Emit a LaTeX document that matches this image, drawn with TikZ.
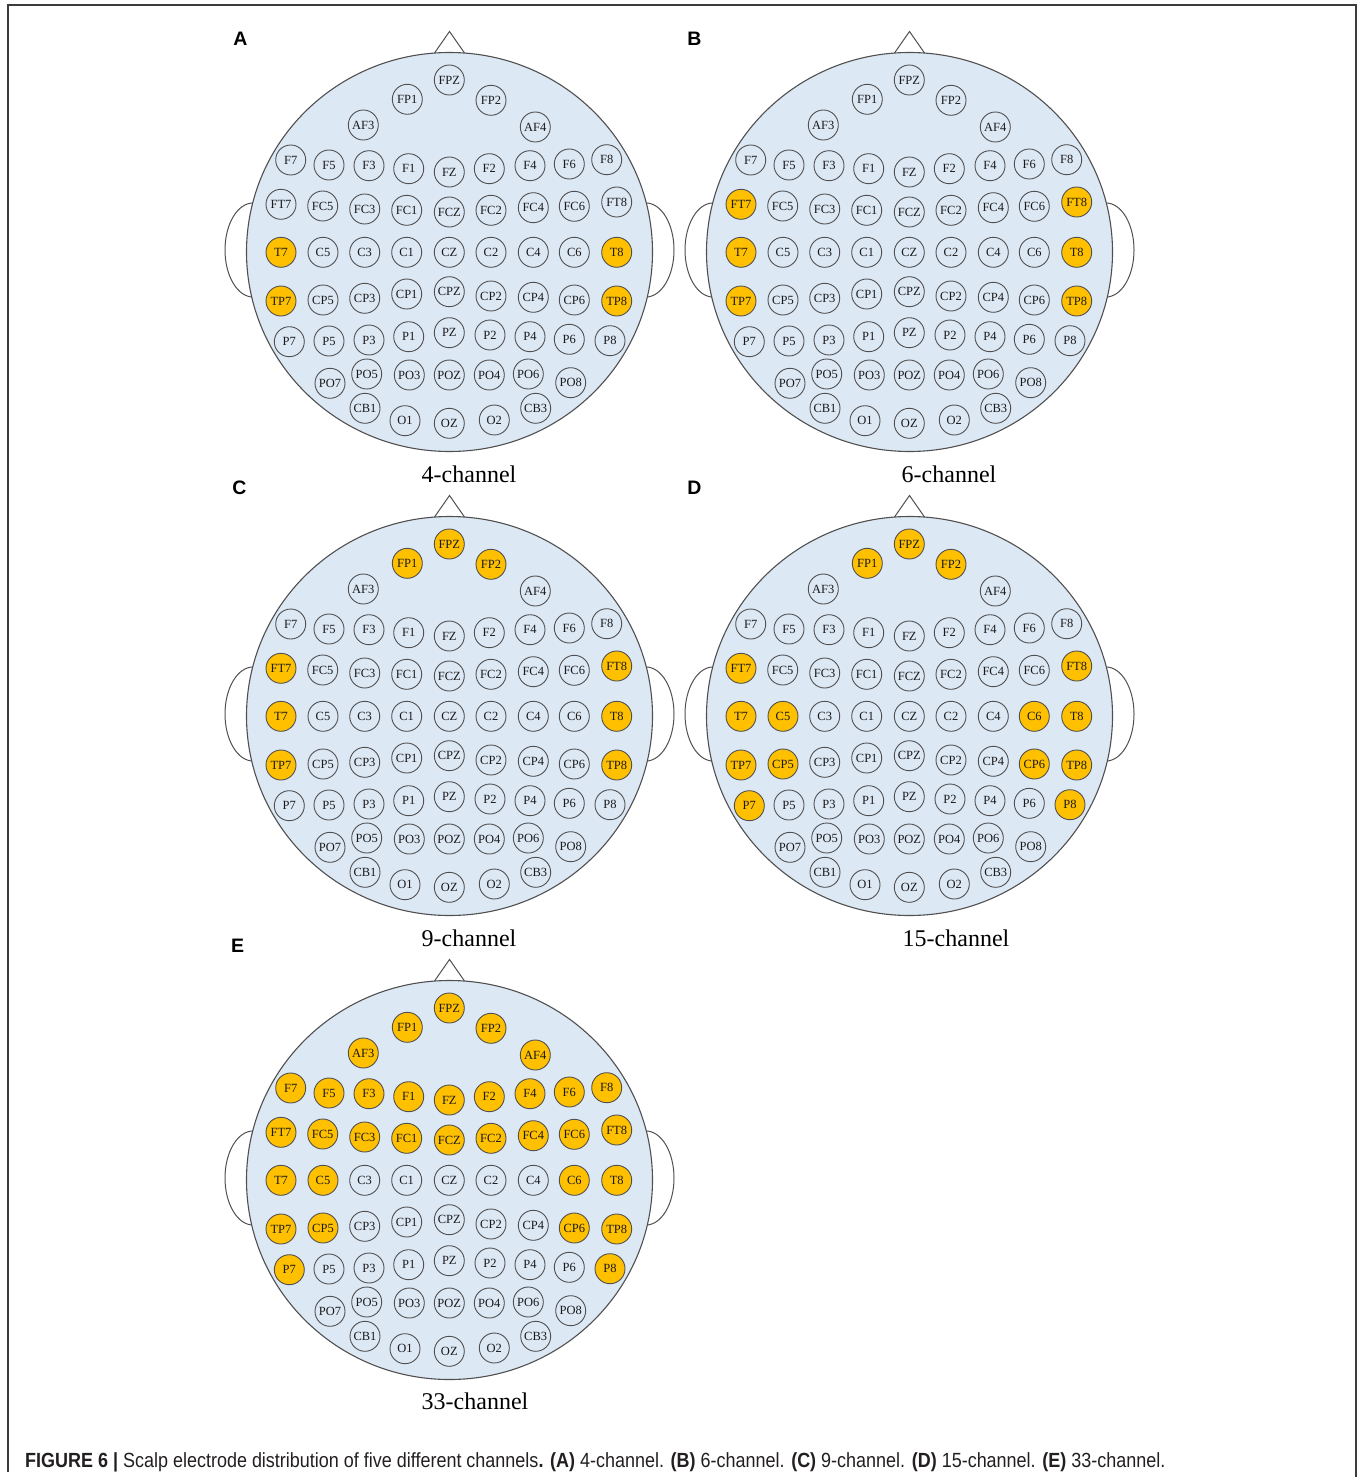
\documentclass[tikz,border=0pt]{standalone}
\usepackage{graphicx}
\usepackage{fontspec}
\setmainfont{Liberation Serif}
\newfontfamily\capfont{Liberation Sans}
\definecolor{headfill}{RGB}{221,232,245}
\definecolor{hlcol}{RGB}{255,192,0}
\definecolor{edgecol}{RGB}{80,80,80}
\definecolor{framecol}{RGB}{60,60,60}
\definecolor{captext}{RGB}{35,31,32}
\tikzset{
  elec/.style={circle, draw=edgecol, line width=0.9pt, minimum size=30pt, inner sep=0pt,
    font=\fontsize{12.5}{12.5}\selectfont, text=black!90},
  elecoff/.style={elec},
  elecon/.style={elec, fill=hlcol},
  headshape/.style={draw=edgecol, line width=1.1pt, fill=headfill},
  earline/.style={draw=edgecol, line width=1pt},
  panellabel/.style={font=\capfont\bfseries\fontsize{19.5}{19.5}\selectfont, inner sep=0pt},
  chanlabel/.style={font=\fontsize{24}{24}\selectfont, anchor=base, inner sep=0pt},
}
\newcommand\elist{FPZ/449.3/80, FP1/407.3/99.3, FP2/491/100.3, AF3/363.3/125, AF4/535.3/127,
F7/290.7/160, F5/329/165, F3/369/165.7, F1/408.7/168.7, FZ/449.3/172, F2/489.3/168.7, F4/530/165.7, F6/569.3/164, F8/606.7/159.7,
FT7/281/204.3, FC5/322.7/206, FC3/364.7/209, FC1/406.7/210.3, FCZ/449.3/212, FC2/491/210.3, FC4/533.3/207.7, FC6/574.3/206.3, FT8/616.7/202,
T7/281/252.3, C5/323/252.3, C3/364.7/252.3, C1/406.7/252.3, CZ/449.3/252.3, C2/491/252.3, C4/533.3/252.3, C6/574.3/252.3, T8/616.7/252.3,
TP7/281/301, CP5/323/300, CP3/364.7/298.3, CP1/406.7/294, CPZ/449.3/291.7, CP2/491/296, CP4/533.3/297.3, CP6/574.3/300, TP8/616.7/301,
P7/289.3/341.7, P5/329/341, P3/369/340, P1/408.7/336.7, PZ/449.3/332.7, P2/490/335, P4/530/336.7, P6/569.3/339.3, P8/610/340.7,
PO7/330/383.3, PO5/366.7/374, PO3/409.3/375, POZ/449.3/375, PO4/489.3/375, PO6/528.3/374, PO8/570.7/382.7,
CB1/365/408.3, O1/405/420.7, OZ/449.3/423.3, O2/494.3/420, CB3/535.7/408.3}
\newcommand\drawhead[4]{%
  \foreach \m in {#4}{\expandafter\gdef\csname hl#1\m\endcsname{}}
  \draw[earline] (253+#2,250+#3) ellipse [x radius=28pt, y radius=47pt];
  \draw[earline] (646+#2,250+#3) ellipse [x radius=28pt, y radius=47pt];
  \draw[earline] (431+#2,58+#3) -- (449.5+#2,31.5+#3) -- (468+#2,58+#3);
  \draw[headshape] (449.5+#2,252+#3) ellipse [x radius=203pt, y radius=199.5pt];
  \foreach \n/\x/\y in \elist {
    \ifcsname hl#1\n\endcsname\tikzset{cur/.style={elecon}}\else\tikzset{cur/.style={elecoff}}\fi
    \node[cur] (#1-\n) at (\x+#2,\y+#3) {\n};
  }
}
\begin{document}
\begin{tikzpicture}[x=1pt,y=-1pt]
\useasboundingbox (0,0) rectangle (1357,1477);
\draw[framecol, line width=1.2pt] (8,1472) -- (8,5) -- (1356,5) -- (1356,1477);

\drawhead{A}{0}{0}{T7,T8,TP7,TP8}
\drawhead{B}{460}{0}{FT7,FT8,T7,T8,TP7,TP8}
\drawhead{C}{0}{464}{FPZ,FP1,FP2,FT7,FT8,T7,T8,TP7,TP8}
\drawhead{D}{460}{464}{FPZ,FP1,FP2,FT7,FT8,T7,C5,C6,T8,TP7,CP5,CP6,TP8,P7,P8}
\drawhead{E}{0}{928}{FPZ,FP1,FP2,AF3,AF4,F7,F5,F3,F1,FZ,F2,F4,F6,F8,FT7,FC5,FC3,FC1,FCZ,FC2,FC4,FC6,FT8,T7,C5,C6,T8,TP7,CP5,CP6,TP8,P7,P8}

\node[panellabel] (labA) at (240.5,39) {A};
\node[panellabel] (labB) at (694.5,39) {B};
\node[panellabel] (labC) at (239.5,488) {C};
\node[panellabel] (labD) at (694.5,488) {D};
\node[panellabel] (labE) at (237.5,946) {E};

\node[chanlabel] (chA) at (469,482) {4-channel};
\node[chanlabel] (chB) at (949,482) {6-channel};
\node[chanlabel] (chC) at (469,946) {9-channel};
\node[chanlabel] (chD) at (956,946) {15-channel};
\node[chanlabel] (chE) at (475,1409) {33-channel};

\node[anchor=base west, inner sep=0pt, text=captext] (cap) at (25,1467)
  {\resizebox{1140pt}{\height}{\capfont\fontsize{20.5}{22}\selectfont\textbf{FIGURE 6 |} Scalp electrode distribution of five different channels\textbf{.} \textbf{(A)} 4-channel. \textbf{(B)} 6-channel. \textbf{(C)} 9-channel. \textbf{(D)} 15-channel. \textbf{(E)} 33-channel.}};
\end{tikzpicture}
\end{document}
